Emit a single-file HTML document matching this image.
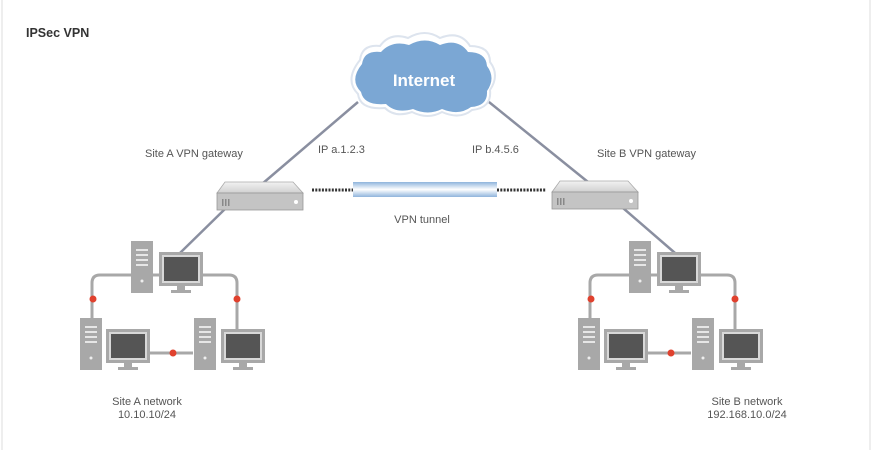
<!DOCTYPE html>
<html><head><meta charset="utf-8"><style>
html,body{margin:0;padding:0;background:#fff;}
svg{display:block;}
text{font-family:"Liberation Sans",Arial,sans-serif;}
</style></head><body>
<svg width="872" height="450" viewBox="0 0 872 450" xmlns="http://www.w3.org/2000/svg">
<defs>
<linearGradient id="tun" x1="0" y1="0" x2="0" y2="1">
<stop offset="0" stop-color="#8fb4dc"/><stop offset="0.5" stop-color="#ffffff"/><stop offset="1" stop-color="#8fb4dc"/>
</linearGradient>
<linearGradient id="gtop" x1="0" y1="0" x2="0" y2="1">
<stop offset="0" stop-color="#f2f2f2"/><stop offset="1" stop-color="#d0d0d0"/>
</linearGradient>
<g id="gw">
<polygon points="8,0 76,0 86,11 0,11" fill="url(#gtop)" stroke="#aaa" stroke-width="0.8"/>
<rect x="0" y="11" width="86" height="17" fill="#c4c4c4" stroke="#999" stroke-width="0.8"/>
<rect x="5" y="17" width="1.5" height="7" fill="#888"/><rect x="8" y="17" width="1.5" height="7" fill="#888"/><rect x="11" y="17" width="1.5" height="7" fill="#888"/>
<circle cx="79" cy="20" r="2" fill="#fff"/>
</g>
<g id="srv">
<rect x="0" y="0" width="22" height="52" fill="#a8a8a8"/>
<rect x="5" y="8" width="12" height="2" fill="#e6e6e6"/><rect x="5" y="13" width="12" height="2" fill="#e6e6e6"/><rect x="5" y="18" width="12" height="2" fill="#e6e6e6"/><rect x="5" y="23" width="12" height="2" fill="#e6e6e6"/>
<circle cx="11" cy="40" r="1.5" fill="#eee"/>
</g>
<g id="mon">
<rect x="0" y="0" width="44" height="34" fill="#a8a8a8"/>
<rect x="3" y="3" width="38" height="28" fill="#d8d8d8"/>
<rect x="5" y="5" width="34" height="24" fill="#555"/>
<rect x="18" y="34" width="8" height="4" fill="#a8a8a8"/>
<rect x="12" y="38" width="20" height="3" fill="#a8a8a8"/>
</g>
<g id="net">
<path d="M92,318 V283 Q92,275 100,275 H229 Q237,275 237,283 V330" fill="none" stroke="#a8a8a8" stroke-width="3"/>
<line x1="150" y1="353" x2="193" y2="353" stroke="#a8a8a8" stroke-width="3"/>
<use href="#srv" x="131" y="241"/>
<use href="#mon" x="159" y="252"/>
<use href="#srv" x="80" y="318"/>
<use href="#mon" x="106" y="329"/>
<use href="#srv" x="194" y="318"/>
<use href="#mon" x="221" y="329"/>
<circle cx="93" cy="299" r="3.5" fill="#e0412e"/>
<circle cx="237" cy="299" r="3.5" fill="#e0412e"/>
<circle cx="173" cy="353" r="3.5" fill="#e0412e"/>
</g>
</defs>
<line x1="2" y1="0" x2="2" y2="450" stroke="#ddd"/>
<line x1="870" y1="0" x2="870" y2="450" stroke="#ddd"/>
<text x="26" y="37" font-size="12.5" font-weight="bold" fill="#333">IPSec VPN</text>

<line x1="358" y1="102" x2="262" y2="184" stroke="#8a8fa0" stroke-width="2.5"/>
<line x1="484" y1="98" x2="588" y2="182" stroke="#8a8fa0" stroke-width="2.5"/>
<line x1="226" y1="208" x2="180" y2="253" stroke="#8a8fa0" stroke-width="2.5"/>
<line x1="623" y1="208" x2="675" y2="253" stroke="#8a8fa0" stroke-width="2.5"/>

<g fill="#fff" stroke="#dde4ee" stroke-width="2">
<path d="M360,60 Q362,44 380,46 Q390,32 408,38 Q425,28 440,38 Q460,30 470,46 Q490,46 490,62 Q500,75 490,90 Q492,108 472,110 Q460,120 442,112 Q428,120 412,112 Q395,118 385,108 Q360,110 358,94 Q344,80 360,60 Z"/>
</g>
<path d="M362,64 Q364,50 381,52 Q392,40 409,45 Q425,36 440,45 Q458,38 468,52 Q486,52 487,66 Q496,78 487,91 Q488,106 471,107 Q459,116 442,109 Q428,116 413,109 Q396,114 386,104 Q364,106 361,92 Q349,80 362,64 Z" fill="#7ba7d4"/>
<text x="424" y="86" font-size="17" font-weight="bold" fill="#fff" text-anchor="middle">Internet</text>

<text x="145" y="157" font-size="11" fill="#555">Site A VPN gateway</text>
<text x="318" y="153" font-size="11" fill="#555">IP a.1.2.3</text>
<text x="472" y="153" font-size="11" fill="#555">IP b.4.5.6</text>
<text x="597" y="157" font-size="11" fill="#555">Site B VPN gateway</text>

<use href="#gw" x="217" y="182"/>
<use href="#gw" x="552" y="181"/>
<line x1="312" y1="190" x2="353" y2="190" stroke="#333" stroke-width="3" stroke-dasharray="2,1.3"/>
<line x1="497" y1="190" x2="546" y2="190" stroke="#333" stroke-width="3" stroke-dasharray="2,1.3"/>
<rect x="353" y="182" width="144" height="15" fill="url(#tun)"/>
<text x="422" y="223" font-size="11" fill="#555" text-anchor="middle">VPN tunnel</text>

<use href="#net"/>
<use href="#net" x="498"/>

<text x="147" y="405" font-size="11" fill="#555" text-anchor="middle">Site A network</text>
<text x="147" y="418" font-size="11" fill="#555" text-anchor="middle">10.10.10/24</text>
<text x="747" y="405" font-size="11" fill="#555" text-anchor="middle">Site B network</text>
<text x="747" y="418" font-size="11" fill="#555" text-anchor="middle">192.168.10.0/24</text>
</svg>
</body></html>
